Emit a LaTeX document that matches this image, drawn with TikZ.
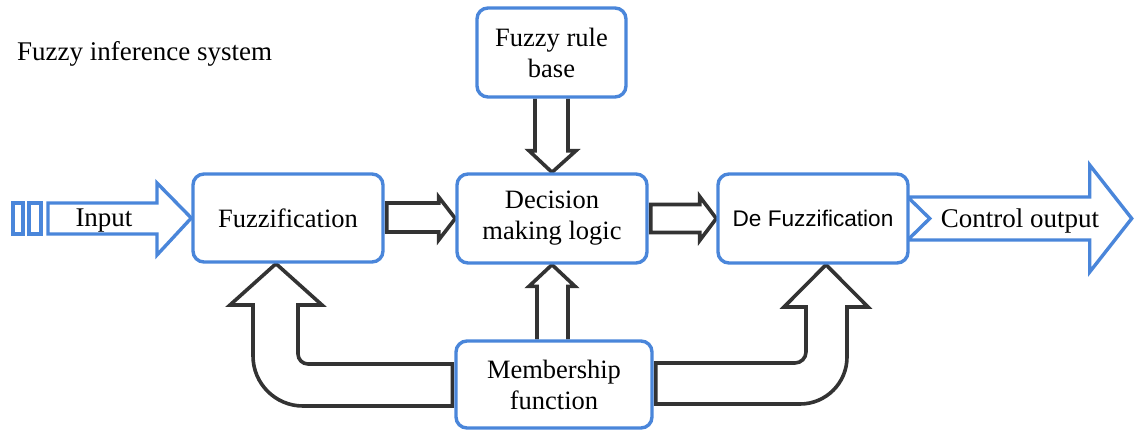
\documentclass[tikz,border=0pt]{standalone}
\usepackage{fontspec}
\setmainfont{Liberation Serif}
\newfontfamily\sansf{Liberation Sans}
\usetikzlibrary{calc}
\definecolor{boxblue}{RGB}{74,134,218}
\definecolor{darkline}{RGB}{51,51,51}
\pgfdeclarelayer{background}
\pgfsetlayers{background,main}
\begin{document}
\begin{tikzpicture}[x=1pt,y=-1pt,
  box/.style={draw=boxblue, line width=3.4pt, rounded corners=11pt, fill=white,
    align=center, inner sep=0pt, text=black, font=\fontsize{26.5}{31}\selectfont},
  blk/.style={draw=darkline, line width=3.6pt, line join=miter, fill=white},
  blu/.style={draw=boxblue, line width=3.4pt, line join=miter, fill=white},
  lbl/.style={inner sep=0pt, text=black, font=\fontsize{27}{32}\selectfont}]
\useasboundingbox (0,0) rectangle (1134,431);

% title
\node[lbl, anchor=base west] (title) at (17,60) {Fuzzy inference system};

% boxes
\node[box, minimum width=149pt, minimum height=89pt] (rule) at (551.5,52.5) {Fuzzy rule\\base};
\node[box, minimum width=190pt, minimum height=88pt] (fuzz) at (288,218) {Fuzzification};
\node[box, minimum width=190pt, minimum height=89pt] (dec) at (552,218.5) {Decision\\making logic};
\node[box, minimum width=190pt, minimum height=89pt,
      font=\sansf\fontsize{22.6}{27}\selectfont] (defuzz) at (813,218.5) {De Fuzzification};
\node[box, minimum width=196pt, minimum height=87pt] (memb) at (554,384.5) {Membership\\function};

\begin{pgfonlayer}{background}
  % input arrow
  \draw[blu] (13,203) rectangle (23,234);
  \draw[blu] (29,203) rectangle (41,234);
  \draw[blu] (48,203) -- (157,203) -- (157,183) -- (fuzz.west) -- (157,255) -- (157,234) -- (48,234) -- cycle;
  % output arrow
  \draw[blu] ($(defuzz.east)+(-2,-21.5)$) -- ($(defuzz.east)+(180,-21.5)$) -- ($(defuzz.east)+(180,-53.5)$)
     -- ($(defuzz.east)+(222,0)$) -- ($(defuzz.east)+(180,53.5)$) -- ($(defuzz.east)+(180,21.5)$)
     -- ($(defuzz.east)+(-2,21.5)$) -- ($(defuzz.east)+(20,0)$) -- cycle;

  % fuzzification -> decision
  \draw[blk] ($(fuzz.east)+(2,-15)$) -- ($(fuzz.east)+(54,-15)$) -- ($(fuzz.east)+(54,-21)$)
     -- (dec.west) -- ($(fuzz.east)+(54,22)$) -- ($(fuzz.east)+(54,14)$) -- ($(fuzz.east)+(2,14)$) -- cycle;
  % decision -> defuzzification
  \draw[blk] ($(dec.east)+(2,-14)$) -- ($(dec.east)+(51,-14)$) -- ($(dec.east)+(51,-22)$)
     -- (defuzz.west) -- ($(dec.east)+(51,22)$) -- ($(dec.east)+(51,14)$) -- ($(dec.east)+(2,14)$) -- cycle;
  % rule base -> decision
  \draw[blk] ($(rule.south)+(-16.5,0)$) -- ($(rule.south)+(-16.5,52)$) -- ($(rule.south)+(-22.5,52)$)
     -- (dec.north) -- ($(rule.south)+(24.5,52)$) -- ($(rule.south)+(16.5,52)$) -- ($(rule.south)+(16.5,0)$);
  % membership -> decision
  \draw[blk] ($(memb.north)+(-17,0)$) -- ($(memb.north)+(-17,-53)$) -- ($(memb.north)+(-25,-53)$)
     -- (dec.south) -- ($(memb.north)+(21,-53)$) -- ($(memb.north)+(14,-53)$) -- ($(memb.north)+(14,0)$);
  % membership -> fuzzification
  \draw[blk] ($(memb.west)+(-2,-20.5)$) -- (308,364) .. controls (302.5,364) and (298,359.5) .. (298,354)
     -- (298,305) -- (322,305) -- ($(fuzz.south)+(-12,0)$) -- (230,305) -- (253,305) -- (253,356)
     .. controls (253,383.6) and (275.4,406) .. (303,406) -- ($(memb.west)+(-2,21.5)$) -- cycle;
  % membership -> defuzzification
  \draw[blk] ($(memb.east)+(2,-21.5)$) -- (795,363) .. controls (801,363) and (806,358) .. (806,352)
     -- (806,307) -- (784,307) -- ($(defuzz.south)+(13,0)$) -- (868,307) -- (847,307) -- (847,357)
     .. controls (847,383) and (826,404) .. (800,404) -- ($(memb.east)+(2,19.5)$) -- cycle;
\end{pgfonlayer}

% arrow labels
\node[lbl, anchor=base] (inlbl) at (104,226.5) {Input};
\node[lbl, anchor=base] (outlbl) at (1020,227) {Control output};
\end{tikzpicture}
\end{document}
